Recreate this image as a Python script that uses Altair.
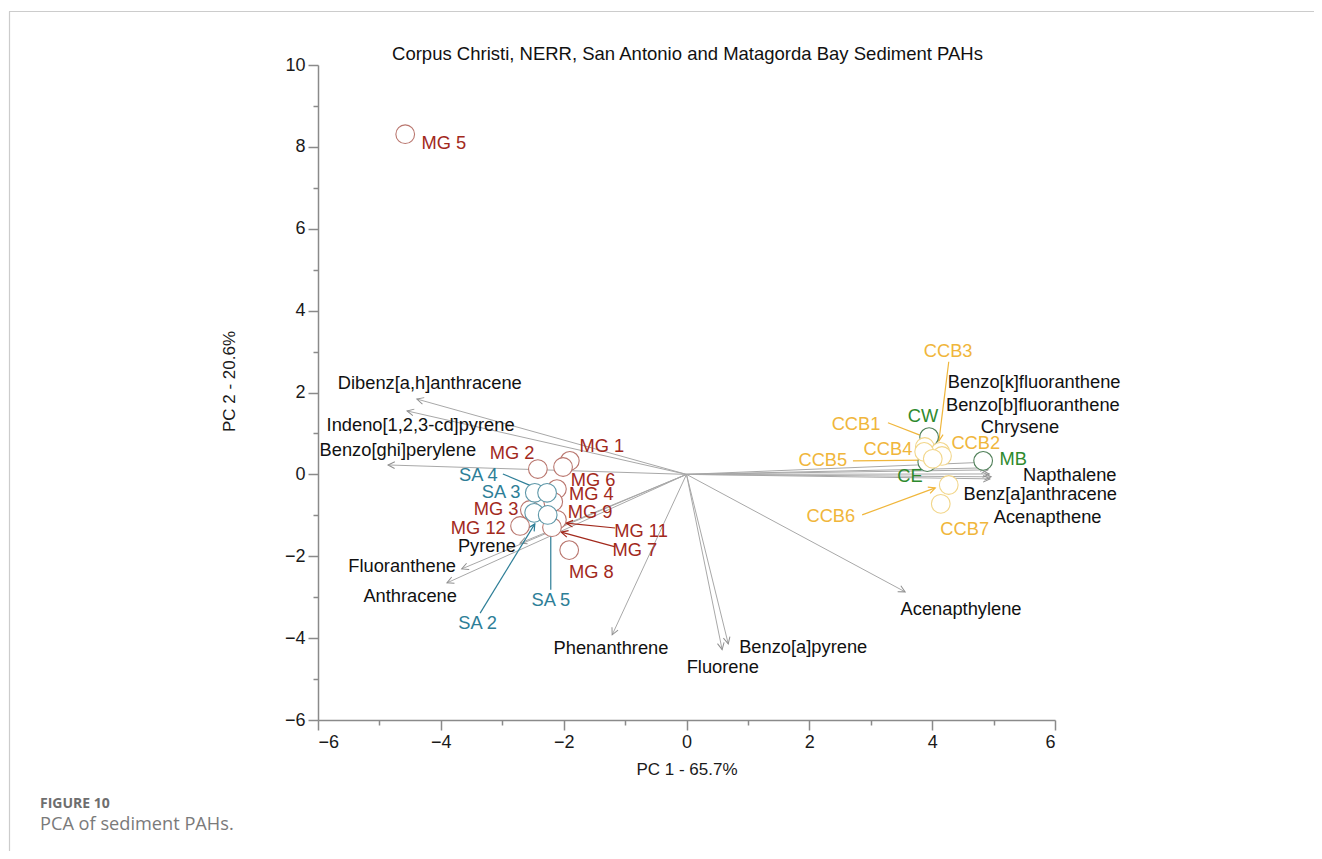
import math
import altair as alt
import pandas as pd

# ---------------- data ----------------
sample_names = ["MG 5", "MG 1", "MG 6", "MG 2", "MG 4", "MG 9", "MG 3", "MG 11", "MG 12", "MG 7", "MG 8",
                "SA 3", "SA 4", "SA 2", "SA 5",
                "CW", "CE", "MB", "CCB1", "CCB3", "CCB4", "CCB2", "CCB5", "CCB6", "CCB7"]
sample_group = ["MG"] * 11 + ["SA"] * 4 + ["Site", "Site", "Site", "CCB", "CCB", "CCB", "CCB", "CCB", "CCB", "CCB"]
sample_x = [-4.58, -1.90, -2.01, -2.42, -2.11, -2.17, -2.55, -2.11, -2.71, -2.19, -1.91,
            -2.47, -2.27, -2.48, -2.26,
            3.95, 3.92, 4.83, 3.88, 4.13, 3.87, 4.16, 4.01, 4.27, 4.14]
sample_y = [8.31, 0.33, 0.18, 0.13, -0.36, -0.67, -0.87, -1.11, -1.26, -1.29, -1.85,
            -0.45, -0.45, -0.94, -0.99,
            0.91, 0.30, 0.33, 0.67, 0.55, 0.55, 0.45, 0.38, -0.26, -0.72]
sample_label_x = [-3.95, -1.38, -1.52, -2.84, -1.55, -1.57, -3.10, -0.74, -3.39, -0.84, -1.55,
                  -3.02, -3.39, -3.40, -2.21,
                  3.85, 3.64, 5.32, 2.76, 4.26, 3.28, 4.71, 2.22, 2.35, 4.53]
sample_label_y = [8.07, 0.67, -0.15, 0.50, -0.50, -0.94, -0.88, -1.40, -1.33, -1.86, -2.41,
                  -0.45, -0.04, -3.65, -3.09,
                  1.40, -0.06, 0.35, 1.21, 2.99, 0.60, 0.74, 0.33, -1.04, -1.36]

leader_names = ["SA 4", "SA 2", "SA 5", "MG 11", "MG 7", "CCB1", "CCB3", "CCB5", "CCB6"]
leader_group = ["SA", "SA", "SA", "MG", "MG", "CCB", "CCB", "CCB", "CCB"]
leader_x0 = [-2.99, -3.36, -2.21, -1.16, -1.16, 3.28, 4.27, 2.71, 2.86]
leader_y0 = [0.01, -3.39, -2.82, -1.31, -1.77, 1.26, 2.75, 0.33, -0.99]
leader_x1 = [-2.53, -2.47, -2.21, -1.96, -2.04, 3.80, 4.11, 3.88, 4.05]
leader_y1 = [-0.28, -1.21, -1.29, -1.19, -1.41, 0.96, 0.82, 0.35, -0.33]
leader_arrow = [False, True, False, True, True, False, True, False, True]

loading_names = ["Dibenz[a,h]anthracene", "Indeno[1,2,3-cd]pyrene", "Benzo[ghi]perylene", "Pyrene",
                 "Fluoranthene", "Anthracene", "Phenanthrene", "Fluorene", "Benzo[a]pyrene",
                 "Acenapthylene", "Benzo[k]fluoranthene", "Benzo[b]fluoranthene", "Chrysene",
                 "Acenapthene", "Napthalene", "Benz[a]anthracene"]
loading_x = [-4.39, -4.55, -4.86, -2.71, -3.66, -3.90, -1.21, 0.58, 0.68, 3.56, 4.91, 4.89, 4.91, 4.93, 4.96, 4.94]
loading_y = [1.84, 1.55, 0.23, -1.68, -2.31, -2.65, -3.92, -4.28, -4.14, -2.87, 0.30, 0.16, 0.11, 0.01, -0.06, -0.11]
loading_label_x = [-4.18, -4.33, -4.70, -3.25, -4.63, -4.50, -1.23, 0.59, 1.90, 4.47, 5.66, 5.64, 5.43, 5.88, 6.24, 5.76]
loading_label_y = [2.20, 1.19, 0.58, -1.77, -2.26, -2.99, -4.27, -4.73, -4.24, -3.31, 2.23, 1.67, 1.13, -1.06, -0.04, -0.50]

x_ticks = [-6, -4, -2, 0, 2, 4, 6]
y_ticks = [-6, -4, -2, 0, 2, 4, 6, 8, 10]
x_minor = [-5, -3, -1, 1, 3, 5]
y_minor = [-5, -3, -1, 1, 3, 5, 7, 9]

title_text = "Corpus Christi, NERR, San Antonio and Matagorda Bay Sediment PAHs"
x_title = "PC 1 - 65.7%"
y_title = "PC 2 - 20.6%"
fig_label = "FIGURE 10"
fig_caption = "PCA of sediment PAHs."

# ---------------- layout / style ----------------
W, H = 737, 655
X_DOM, Y_DOM = [-6, 6], [-6, 10]
FONT = "Liberation Sans"
LFS = 18.3
groups = ["MG", "SA", "CCB", "Site"]
label_colors = ["#a2291c", "#2d7e97", "#f0b63b", "#2e8a2e"]
circle_colors = ["#b9766e", "#5e98a9", "#f2d68a", "#4f7f58"]

xs = alt.Scale(domain=X_DOM, nice=False, zero=False)
ys = alt.Scale(domain=Y_DOM, nice=False, zero=False)
cscale = alt.Scale(domain=groups, range=label_colors)
sscale = alt.Scale(domain=groups, range=circle_colors)

px_per_x = W / (X_DOM[1] - X_DOM[0])
px_per_y = H / (Y_DOM[1] - Y_DOM[0])


def screen_angle(x0, y0, x1, y1):
    dx = (x1 - x0) * px_per_x
    dy = -(y1 - y0) * px_per_y
    return math.degrees(math.atan2(dy, dx)) % 360


samples = pd.DataFrame({"name": sample_names, "group": sample_group, "x": sample_x, "y": sample_y,
                        "lx": sample_label_x, "ly": sample_label_y})
leaders = pd.DataFrame({"name": leader_names, "group": leader_group, "x0": leader_x0, "y0": leader_y0,
                        "x1": leader_x1, "y1": leader_y1, "arrow": leader_arrow})
leaders["angle"] = [screen_angle(a, b, c, d) for a, b, c, d in zip(leader_x0, leader_y0, leader_x1, leader_y1)]
loadings = pd.DataFrame({"name": loading_names, "x": loading_x, "y": loading_y,
                         "lx": loading_label_x, "ly": loading_label_y})
loadings["x0"] = 0.0
loadings["y0"] = 0.0
loadings["angle"] = [screen_angle(0, 0, a, b) for a, b in zip(loading_x, loading_y)]

ARROW = "M -1 -0.5 L 0 0 L -1 0.5"
minor_size = {"condition": {"test": "datum.value % 2 != 0", "value": 5}, "value": 10}
label_expr = "datum.value % 2 == 0 ? format(datum.value, 'd') : ''"

x_axis = alt.Axis(values=x_ticks + x_minor, labelExpr=label_expr, tickSize=minor_size,
                  grid=False, domainColor="#8a8a8a", domainWidth=1.5, tickColor="#8a8a8a", tickWidth=1.5,
                  labelFont=FONT, labelFontSize=18, labelColor="#1a1a1a", labelPadding=3,
                  title=x_title, titleFont=FONT, titleFontSize=17, titleFontWeight="normal",
                  titleColor="#1a1a1a", titleBaseline="alphabetic", titleY=54)
y_axis = alt.Axis(values=y_ticks + y_minor, labelExpr=label_expr, tickSize=minor_size,
                  grid=False, domainColor="#8a8a8a", domainWidth=1.5, tickColor="#8a8a8a", tickWidth=1.5,
                  labelFont=FONT, labelFontSize=18, labelColor="#1a1a1a", labelPadding=3,
                  title=y_title, titleFont=FONT, titleFontSize=17, titleFontWeight="normal",
                  titleColor="#1a1a1a", titleAngle=270, titleAlign="center", titleBaseline="alphabetic",
                  titleX=-84, titleY=316)

load_lines = alt.Chart(loadings).mark_rule(color="#a8a8a8", strokeWidth=1).encode(
    x=alt.X("x0:Q", scale=xs, axis=x_axis), y=alt.Y("y0:Q", scale=ys, axis=y_axis),
    x2="x:Q", y2="y:Q")
load_heads = alt.Chart(loadings).mark_point(shape=ARROW, filled=False, size=180, color="#8f8f8f",
                                            strokeWidth=1, opacity=1).encode(
    x=alt.X("x:Q", scale=xs), y=alt.Y("y:Q", scale=ys), angle=alt.Angle("angle:Q", scale=None))
lead_lines = alt.Chart(leaders).mark_rule(strokeWidth=1.2).encode(
    x=alt.X("x0:Q", scale=xs), y=alt.Y("y0:Q", scale=ys), x2="x1:Q", y2="y1:Q",
    color=alt.Color("group:N", scale=cscale, legend=None))
lead_heads = alt.Chart(leaders).transform_filter("datum.arrow").mark_point(
    shape=ARROW, filled=False, size=180, strokeWidth=1.2, opacity=1).encode(
    x=alt.X("x1:Q", scale=xs), y=alt.Y("y1:Q", scale=ys), angle=alt.Angle("angle:Q", scale=None),
    color=alt.Color("group:N", scale=cscale, legend=None))
circles = alt.Chart(samples).mark_circle(size=350, fill="white", fillOpacity=1, strokeWidth=1.1,
                                         opacity=1).encode(
    x=alt.X("x:Q", scale=xs), y=alt.Y("y:Q", scale=ys),
    stroke=alt.Stroke("group:N", scale=sscale, legend=None))
sample_text = alt.Chart(samples).mark_text(font=FONT, fontSize=LFS, align="center", baseline="middle").encode(
    x=alt.X("lx:Q", scale=xs), y=alt.Y("ly:Q", scale=ys), text="name:N",
    color=alt.Color("group:N", scale=cscale, legend=None))
load_text = alt.Chart(loadings).mark_text(font=FONT, fontSize=LFS, align="center", baseline="middle",
                                          color="#111111").encode(
    x=alt.X("lx:Q", scale=xs), y=alt.Y("ly:Q", scale=ys), text="name:N")

# page decorations (title, journal frame, caption), placed in pixels relative to the plot area
one = alt.Data(values=[{"k": 1}])
title_mark = alt.Chart(one).mark_text(font=FONT, fontSize=18.5, color="#111111", align="center",
                                      baseline="alphabetic").encode(
    x=alt.value(W / 2 + 1), y=alt.value(-5), text=alt.value(title_text))
frame_top = alt.Chart(one).mark_rule(color="#cccccc", strokeWidth=1.2).encode(
    x=alt.value(-309), x2=alt.value(1010), y=alt.value(-53.5))
frame_left = alt.Chart(one).mark_rule(color="#cccccc", strokeWidth=1.2).encode(
    x=alt.value(-308.5), y=alt.value(-53.5), y2=alt.value(800))
cap1 = alt.Chart(one).mark_text(font="Open Sans", fontSize=14, fontWeight="bold", color="#6e6e6e",
                                align="left", baseline="alphabetic").encode(
    x=alt.value(-278), y=alt.value(743), text=alt.value(fig_label))
cap2 = alt.Chart(one).mark_text(font="Open Sans", fontSize=18.2, color="#7a7a7a",
                                align="left", baseline="alphabetic").encode(
    x=alt.value(-278), y=alt.value(765), text=alt.value(fig_caption))

chart = alt.layer(
    frame_top, frame_left, title_mark, cap1, cap2,
    load_lines, load_heads, lead_lines, lead_heads, circles, sample_text, load_text
).properties(
    width=W, height=H,
    background="white",
    autosize=alt.AutoSizeParams(type="none"),
    padding={"left": 310, "top": 57, "right": 259, "bottom": 131},
).configure_view(strokeWidth=0, stroke="transparent")

chart.save("out.html", embed_options={"renderer": "svg", "actions": False})
